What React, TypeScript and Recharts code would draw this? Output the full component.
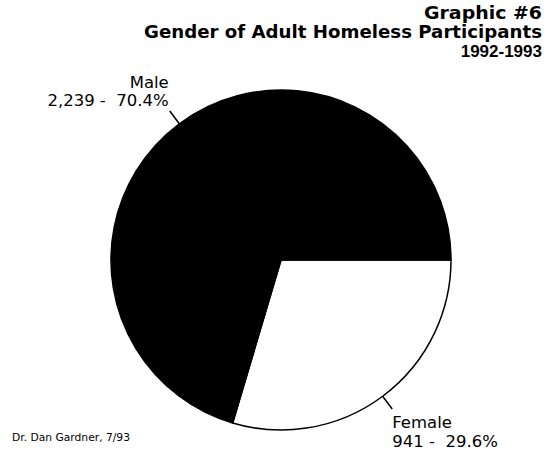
import { PieChart, Pie, Cell } from 'recharts'

const genders = ['Female', 'Male']
const participants = [941, 2239]
const sliceColors = ['#ffffff', '#000000']
const titleLines = ['Graphic #6', 'Gender of Adult Homeless Participants', '1992-1993']
const titleWidths = [118, 398, 0]
const credit = 'Dr. Dan Gardner, 7/93'

const data = genders.map((name, i) => ({ name, value: participants[i] }))
const total = participants.reduce((a, b) => a + b, 0)

const RADIAN = Math.PI / 180
const labelFont = '"DejaVu Sans", sans-serif'
const titleY = [19, 37.5, 56.5]

const renderLabel = (props: any) => {
    const { cx, cy, midAngle, outerRadius, name, value } = props
    const cos = Math.cos(-midAngle * RADIAN)
    const sin = Math.sin(-midAngle * RADIAN)
    const sx = cx + outerRadius * cos
    const sy = cy + outerRadius * sin
    const ex = cx + (outerRadius + 16) * cos
    const ey = cy + (outerRadius + 16) * sin
    const pct = ((value / total) * 100).toFixed(1)
    const line2 = `${value.toLocaleString('en-US')} -  ${pct}%`
    const above = sin < 0
    const anchor = cos < 0 ? 'end' : 'start'
    const tx = cos < 0 ? ex - 1 : ex
    const y1 = above ? ey - 23 : ey + 19
    const y2 = above ? ey - 5 : ey + 38
    return (
        <g>
            <line x1={sx} y1={sy} x2={ex} y2={ey} stroke="#000" strokeWidth={1.5} />
            <text x={tx} y={y1} textAnchor={anchor} fontFamily={labelFont} fontSize={16.5} fill="#000" style={{ whiteSpace: 'pre' }}>
                {name}
            </text>
            <text x={tx} y={y2} textAnchor={anchor} fontFamily={labelFont} fontSize={16.5} fill="#000" style={{ whiteSpace: 'pre' }}>
                {line2}
            </text>
        </g>
    )
}

export default function App() {
    return (
        <div style={{ position: 'absolute', left: 0, top: 0, width: 546, height: 450, background: '#fff' }}>
            <PieChart width={546} height={450} margin={{ top: 0, right: 0, bottom: 0, left: 0 }}>
                <Pie
                    data={data}
                    dataKey="value"
                    nameKey="name"
                    cx={281}
                    cy={260}
                    outerRadius={170}
                    startAngle={0}
                    endAngle={-360}
                    stroke="#000"
                    strokeWidth={1.5}
                    label={renderLabel}
                    labelLine={false}
                    isAnimationActive={false}
                >
                    {data.map((entry, index) => (
                        <Cell key={`cell-${index}`} fill={sliceColors[index]} />
                    ))}
                </Pie>
            </PieChart>
            <svg width={546} height={450} style={{ position: 'absolute', left: 0, top: 0, pointerEvents: 'none' }}>
                {titleLines.map((t, i) => (
                    <text
                        key={t}
                        x={542}
                        y={titleY[i]}
                        textAnchor="end"
                        textLength={titleWidths[i] || undefined}
                        lengthAdjust={titleWidths[i] ? 'spacingAndGlyphs' : undefined}
                        fontFamily={i === 2 ? '"Liberation Sans", Arial, sans-serif' : '"DejaVu Sans", sans-serif'}
                        fontWeight="bold"
                        fontSize={17}
                        fill="#000"
                    >
                        {t}
                    </text>
                ))}
                <text x={12} y={441} textLength={118} lengthAdjust="spacingAndGlyphs" fontFamily={labelFont} fontSize={10} fill="#000">
                    {credit}
                </text>
            </svg>
        </div>
    )
}
